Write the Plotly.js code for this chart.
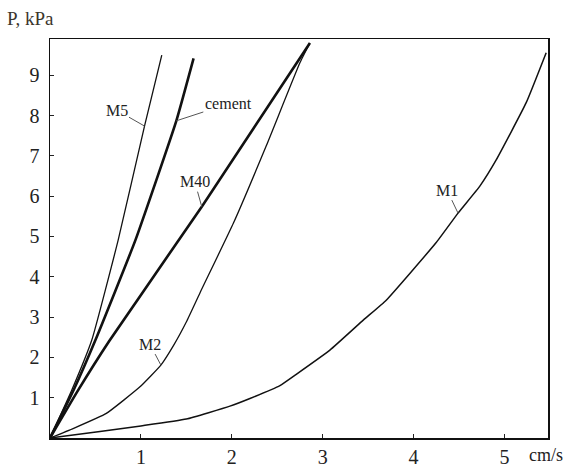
<!DOCTYPE html>
<html>
<head>
<meta charset="utf-8">
<script src="https://cdn.plot.ly/plotly-3.0.1.min.js"></script>
<style>html,body{margin:0;padding:0;background:#fff;}#chart{width:573px;height:466px;}</style>
</head>
<body>
<div id="chart"></div>
<script>
// Series (x: cm/s, y: P, kPa)
var m5X = [0, 0.24, 0.46, 0.75, 1.04, 1.23];
var m5Y = [0, 1.19, 2.43, 4.91, 7.74, 9.50];

var cementX = [0, 0.26, 0.50, 0.94, 1.39, 1.58];
var cementY = [0, 1.19, 2.43, 4.91, 7.87, 9.42];

var m40X = [0, 0.30, 0.65, 1.67, 2.86];
var m40Y = [0, 1.15, 2.40, 5.74, 9.80];

var m2X = [0, 0.26, 0.62, 0.99, 1.22, 1.36, 1.50, 1.65, 2.02, 2.38, 2.75, 2.86];
var m2Y = [0, 0.24, 0.61, 1.27, 1.81, 2.30, 2.88, 3.60, 5.34, 7.25, 9.31, 9.80];

var m1X = [0, 0.55, 1.00, 1.50, 1.98, 2.20, 2.53, 2.71, 3.08, 3.45, 3.70, 4.25, 4.49, 4.73, 4.91, 5.24, 5.46];
var m1Y = [0, 0.16, 0.30, 0.47, 0.79, 0.98, 1.30, 1.58, 2.18, 2.93, 3.42, 4.85, 5.58, 6.25, 6.90, 8.32, 9.56];

var xTicks = [1, 2, 3, 4, 5];
var yTicks = [1, 2, 3, 4, 5, 6, 7, 8, 9];
var seriesNames = ['M5', 'cement', 'M40', 'M2', 'M1'];

var serif = 'Liberation Serif';
function line(x, y, name, w) {
  return {x: x, y: y, name: name, type: 'scatter', mode: 'lines',
          line: {color: '#111', width: w, shape: 'spline', smoothing: 0.4}, hoverinfo: 'none'};
}
var data = [
  line(m5X, m5Y, seriesNames[0], 1.3),
  line(cementX, cementY, seriesNames[1], 2.6),
  line(m40X, m40Y, seriesNames[2], 2.6),
  line(m2X, m2Y, seriesNames[3], 1.3),
  line(m1X, m1Y, seriesNames[4], 1.5)
];

function label(text, x, y, ax, ay) {
  return {text: text, x: x, y: y, xref: 'x', yref: 'y', ax: ax, ay: ay,
          showarrow: true, arrowhead: 0, arrowwidth: 1, arrowcolor: '#555',
          font: {family: serif, size: 16, color: '#222'}};
}

var layout = {
  width: 573, height: 466,
  margin: {l: 50, r: 25, t: 39, b: 28},
  paper_bgcolor: '#fff', plot_bgcolor: '#fff',
  showlegend: false,
  font: {family: serif},
  xaxis: {range: [0, 5.48], tickvals: xTicks, ticktext: xTicks.map(String),
          ticks: 'inside', ticklen: 4, tickcolor: '#222', showgrid: false, zeroline: false,
          showline: true, mirror: true, linecolor: '#111', linewidth: 1.5,
          tickfont: {family: serif, size: 20, color: '#222'}},
  yaxis: {range: [0, 9.9], tickvals: yTicks, ticktext: yTicks.map(String),
          ticks: 'inside', ticklen: 4, tickcolor: '#222', showgrid: false, zeroline: false,
          showline: true, mirror: true, linecolor: '#111', linewidth: 1.5,
          ticklabelstandoff: 5,
          tickfont: {family: serif, size: 20, color: '#222'}},
  annotations: [
    label(seriesNames[0], 1.04, 7.74, -28, -16),
    label(seriesNames[1], 1.39, 7.87, 52, -17),
    label(seriesNames[2], 1.67, 5.74, -7, -25),
    label(seriesNames[3], 1.22, 1.81, -11, -21),
    label(seriesNames[4], 4.49, 5.58, -11, -23),
    {text: 'P, kPa', xref: 'paper', yref: 'paper', x: 0, y: 1, xanchor: 'left', yanchor: 'middle',
     xshift: -45, yshift: 21, showarrow: false, font: {family: serif, size: 19, color: '#3b352c'}},
    {text: 'cm/s', xref: 'paper', yref: 'paper', x: 1, y: 0, xanchor: 'center', yanchor: 'middle',
     xshift: -2, yshift: -17, showarrow: false, font: {family: serif, size: 18, color: '#222'}}
  ]
};

Plotly.newPlot('chart', data, layout, {staticPlot: true, displayModeBar: false});
</script>
</body>
</html>
